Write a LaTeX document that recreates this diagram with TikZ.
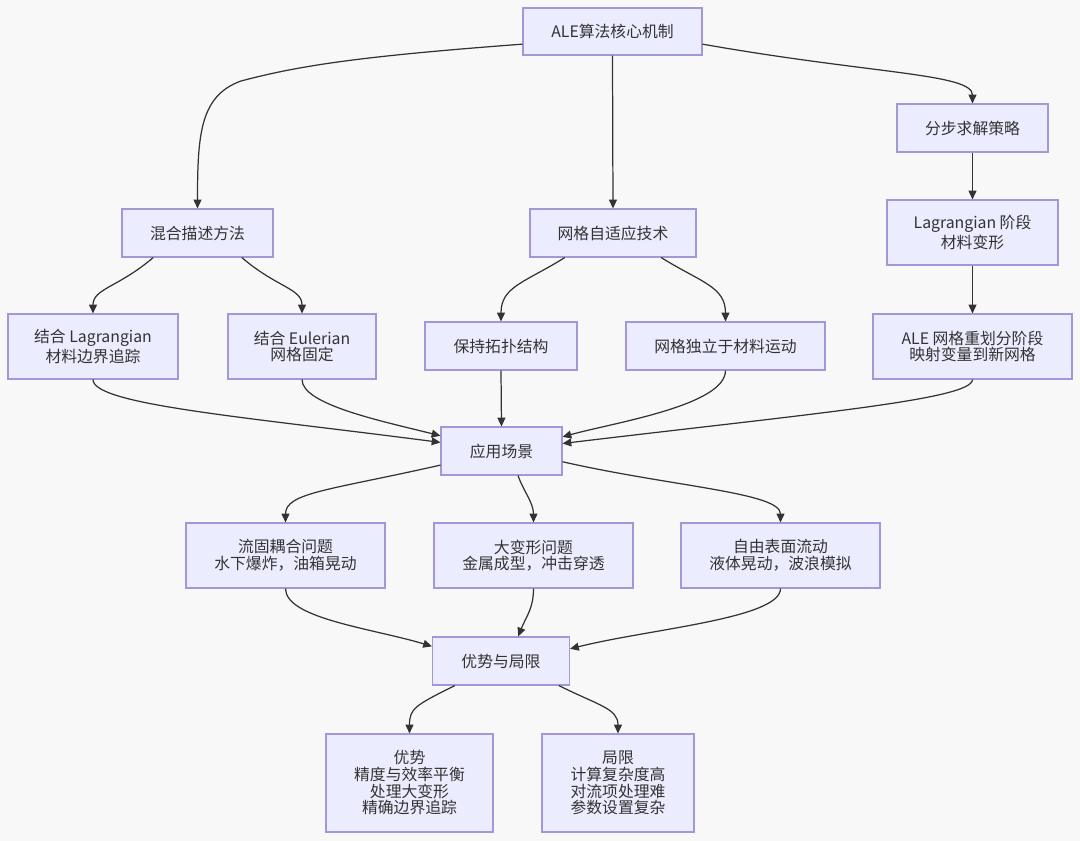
\documentclass[tikz,border=0pt]{standalone}
\usepackage{fontspec}
\setmainfont{Noto Sans CJK SC}
\usetikzlibrary{arrows.meta}
\definecolor{boxfill}{HTML}{ECECFF}
\definecolor{boxline}{HTML}{A497D8}
\definecolor{txt}{HTML}{333333}
\definecolor{bg}{HTML}{F8F8F8}
\begin{document}
\begin{tikzpicture}
    [%%%%%%%%%%%%%%%%%%%%%%%%%%%%%%
        x=0.02cm, y=-0.02cm,
        box/.style 2 args={rectangle, draw=boxline, fill=boxfill, line width=0.6pt, text=txt,
            align=center, inner sep=0pt, minimum width=#1*0.02cm, minimum height=#2*0.02cm,
            font=\fontsize{9pt}{9.5pt}\selectfont},
        arr/.style={-{Triangle[length=5pt,width=4.5pt]}, draw=txt, line width=0.7pt},
    ]%%%%%%%%%%%%%%%%%%%%%%%%%%%%%%
\fill[bg] (0,0) rectangle (1080,841);
\useasboundingbox (0,0) rectangle (1080,841);

\node[box={179}{47}] (root) at (612.5,31.5) {ALE算法核心机制};

\node[box={151}{48}] (mix) at (197.5,233) {混合描述方法};
\node[box={166}{48}] (mesh) at (613,233) {网格自适应技术};
\node[box={151}{48}] (split) at (972.5,128) {分步求解策略};
\node[box={171}{65}] (lagstep) at (972.5,232.5) {Lagrangian 阶段\\材料变形};

\node[box={170}{65}] (withlag) at (93,346.5) {结合 Lagrangian\\材料边界追踪};
\node[box={148}{65}] (witheul) at (302,346.5) {结合 Eulerian\\网格固定};
\node[box={152}{48}] (topo) at (501,346) {保持拓扑结构};
\node[box={199}{48}] (indep) at (725.5,346) {网格独立于材料运动};
\node[box={199}{65}] (remap) at (972.5,346.5) {ALE 网格重划分阶段\\映射变量到新网格};

\node[box={121}{48}] (app) at (501.5,451) {应用场景};

\node[box={199}{65}] (fsi) at (285.5,555.5) {流固耦合问题\\水下爆炸，油箱晃动};
\node[box={199}{65}] (bigdef) at (533.5,555.5) {大变形问题\\金属成型，冲击穿透};
\node[box={199}{65}] (free) at (780.5,555.5) {自由表面流动\\液体晃动，波浪模拟};

\node[box={137}{48}] (proscons) at (501,661) {优势与局限};

\node[box={167}{98}] (pros) at (409.5,783) {优势\\精度与效率平衡\\处理大变形\\精确边界追踪};
\node[box={152}{98}] (cons) at (618,783) {局限\\计算复杂度高\\对流项处理难\\参数设置复杂};

% top level
\draw[arr] (root.188) .. controls +(-160,12) and +(60,-16) .. ++(-282,37)
           .. controls +(-40,15) and +(0,-75) .. (mix.north);
\draw[arr] (root.south) -- (mesh.north);
\draw[arr] (root.-8) .. controls +(170,30) and +(0,-30) .. (split.north);

% second level
\draw[arr] (mix.-151) .. controls +(-35,30) and +(0,-25) .. (withlag.north);
\draw[arr] (mix.-29) .. controls +(35,30) and +(0,-25) .. (witheul.north);
\draw[arr] (mesh.-153) .. controls +(-40,25) and +(0,-35) .. (topo.north);
\draw[arr] (mesh.-27) .. controls +(40,25) and +(0,-35) .. (indep.north);
\draw[arr] (split.south) -- (lagstep.north);
\draw[arr] (lagstep.south) -- (remap.north);

% into the scenes
\draw[arr] (withlag.south) .. controls +(0,25) and +(-200,-26) .. (app.172);
\draw[arr] (witheul.south) .. controls +(0,25) and +(-60,-15) .. (app.166);
\draw[arr] (topo.south) -- (app.north);
\draw[arr] (indep.south) .. controls +(0,35) and +(50,-14) .. (app.13);
\draw[arr] (remap.south) .. controls +(0,20) and +(250,-30) .. (app.7);

\draw[arr] (app.193) .. controls +(-110,25) and +(0,-30) .. (fsi.north);
\draw[arr] (app.-56) .. controls +(5,15) and +(0,-20) .. (bigdef.north);
\draw[arr] (app.-10) .. controls +(110,25) and +(0,-30) .. (free.north);

% pros and cons
\draw[arr] (fsi.south) .. controls +(0,30) and +(-60,-18) .. (proscons.168);
\draw[arr] (bigdef.south) .. controls +(0,20) and +(8,-20) .. (proscons.55);
\draw[arr] (free.south) .. controls +(0,30) and +(80,-20) .. (proscons.10);

\draw[arr] (proscons.-152) .. controls +(-40,20) and +(0,-25) .. (pros.north);
\draw[arr] (proscons.-23) .. controls +(40,20) and +(0,-25) .. (cons.north);

\end{tikzpicture}
\end{document}
